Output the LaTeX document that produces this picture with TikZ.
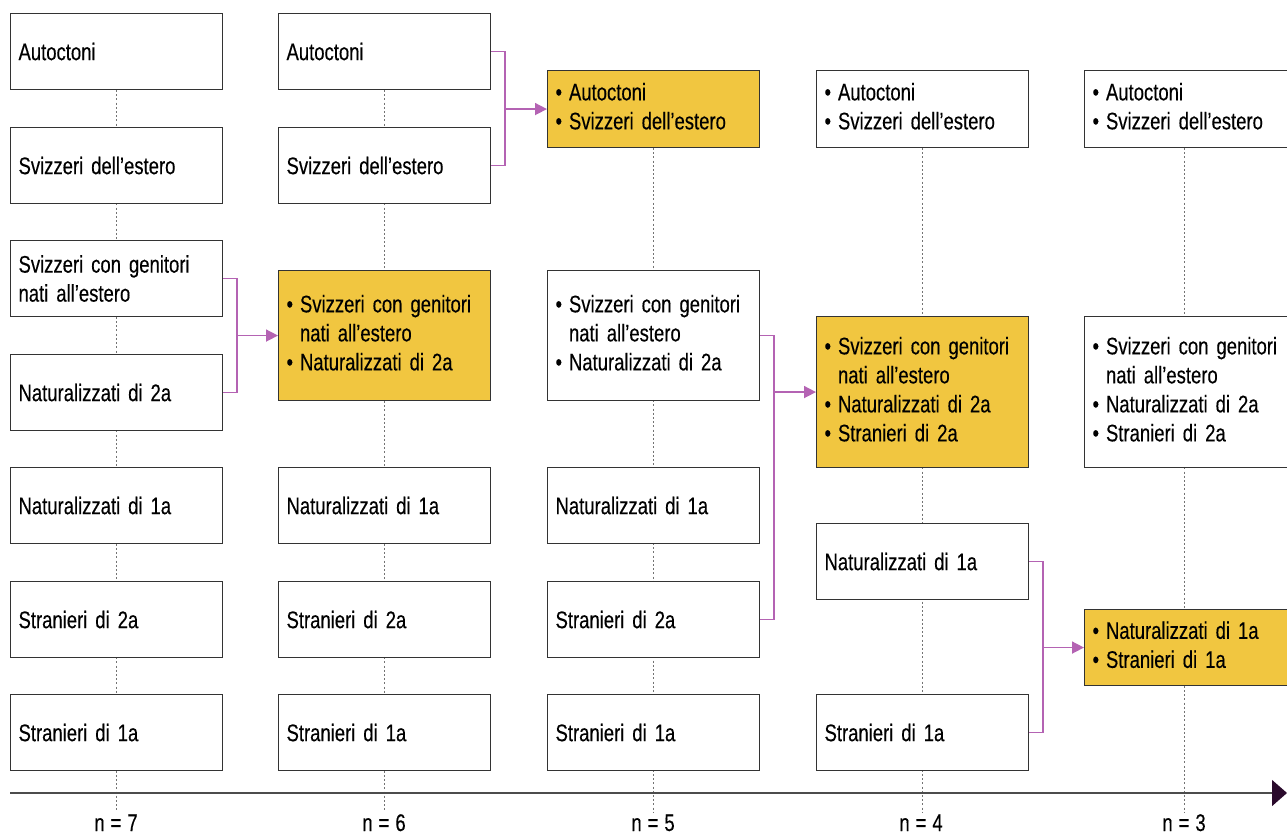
\documentclass[tikz,border=0pt]{standalone}
\usepackage{fontspec}
\setmainfont{Liberation Sans}[FakeStretch=0.77,FakeBold=0.3]
\usetikzlibrary{positioning,arrows.meta,calc,backgrounds}
\definecolor{cGold}{HTML}{F1C640}
\definecolor{cLink}{HTML}{B463B3}
\definecolor{cAxis}{HTML}{2A0A2C}
\newcommand{\boxfont}{\fontsize{24}{29}\selectfont\spaceskip=5pt plus 1pt\relax}
\newcommand{\blist}[1]{\begin{tabular}{@{}l@{\hspace{7pt}}l@{}}#1\end{tabular}}
\newcommand{\itm}{\textbullet &}

\begin{document}
\begin{tikzpicture}[
  x=1pt, y=-1pt,
  font=\boxfont,
  box/.style ={draw=black!80, line width=1.1pt, fill=white, anchor=north west,
               text width=196pt, inner xsep=8pt, inner ysep=0pt,
               minimum height=76pt, align=left},
  hot/.style ={box, fill=cGold},
  link/.style={draw=cLink, line width=1.6pt},
  ar/.style  ={link, -{Triangle[length=12pt,width=12pt]}},
  guide/.style={draw=black!55, line width=1pt, dash pattern=on 2pt off 2.2pt},
  axisln/.style={draw=black!70, line width=1.3pt, -{Triangle[length=15pt,width=26pt,color=cAxis]}},
  lbl/.style ={anchor=base, inner sep=0pt},
]
\useasboundingbox (0,0) rectangle (1287,834);

% n = 7
\node[box] (a1) at (10,13)  {Autoctoni};
\node[box] (a2) at (10,127) {Svizzeri dell’estero};
\node[box] (a3) at (10,240) {Svizzeri con genitori\\nati all’estero};
\node[box] (a4) at (10,354) {Naturalizzati di 2a};
\node[box] (a5) at (10,467) {Naturalizzati di 1a};
\node[box] (a6) at (10,581) {Stranieri di 2a};
\node[box] (a7) at (10,694) {Stranieri di 1a};

% n = 6
\node[box] (b1) at (278,13)  {Autoctoni};
\node[box] (b2) at (278,127) {Svizzeri dell’estero};
\node[hot, minimum height=130pt] (b3) at (278,270)
  {\blist{\itm Svizzeri con genitori\\ & nati all’estero\\ \itm Naturalizzati di 2a}};
\node[box] (b4) at (278,467) {Naturalizzati di 1a};
\node[box] (b5) at (278,581) {Stranieri di 2a};
\node[box] (b6) at (278,694) {Stranieri di 1a};

% n = 5
\node[hot, minimum height=77pt] (c1) at (547,70)
  {\blist{\itm Autoctoni\\ \itm Svizzeri dell’estero}};
\node[box, minimum height=130pt] (c2) at (547,270)
  {\blist{\itm Svizzeri con genitori\\ & nati all’estero\\ \itm Naturalizzati di 2a}};
\node[box] (c3) at (547,467) {Naturalizzati di 1a};
\node[box] (c4) at (547,581) {Stranieri di 2a};
\node[box] (c5) at (547,694) {Stranieri di 1a};

% n = 4
\node[box, minimum height=77pt] (d1) at (816,70)
  {\blist{\itm Autoctoni\\ \itm Svizzeri dell’estero}};
\node[hot, minimum height=151pt] (d2) at (816,316)
  {\blist{\itm Svizzeri con genitori\\ & nati all’estero\\ \itm Naturalizzati di 2a\\ \itm Stranieri di 2a}};
\node[box] (d3) at (816,523) {Naturalizzati di 1a};
\node[box] (d4) at (816,694) {Stranieri di 1a};

% n = 3
\node[box, minimum height=77pt] (e1) at (1084,70)
  {\blist{\itm Autoctoni\\ \itm Svizzeri dell’estero}};
\node[box, minimum height=151pt] (e2) at (1084,316)
  {\blist{\itm Svizzeri con genitori\\ & nati all’estero\\ \itm Naturalizzati di 2a\\ \itm Stranieri di 2a}};
\node[hot] (e3) at (1084,609)
  {\blist{\itm Naturalizzati di 1a\\ \itm Stranieri di 1a}};

% axis and step labels
\coordinate (ax0) at (10,793);
\coordinate (ax1) at (1287,793);
\draw[axisln] (ax0) -- (ax1);
\foreach \x/\n in {116/7,384/6,653/5,921/4,1184/3}{
  \coordinate (t\n) at (\x,812);
  \node[lbl] (l\n) at (\x,831) {n\hspace{6pt}=\hspace{6pt}\n};
}

% guide lines behind the boxes
\begin{scope}[on background layer]
\foreach \n/\t in {7/a1,6/b1,5/c1,4/d1}{\draw[guide] (\t.south) -- (\t.south |- t\n);}
\draw[guide] (e1.south -| t3) -- (t3);
\end{scope}

% merges
\draw[link] (a3.east) -- ++(14,0) coordinate (k1) |- (a4.east);
\draw[ar] (k1 |- b3.west) -- (b3.west);
\draw[link] (b1.east) -- ++(14,0) coordinate (k2) |- (b2.east);
\draw[ar] (k2 |- c1.west) -- (c1.west);
\draw[link] (c2.east) -- ++(14,0) coordinate (k3) |- (c4.east);
\draw[ar] (k3 |- d2.west) -- (d2.west);
\draw[link] (d3.east) -- ++(14,0) coordinate (k4) |- (d4.east);
\draw[ar] (k4 |- e3.west) -- (e3.west);
\end{tikzpicture}
\end{document}
